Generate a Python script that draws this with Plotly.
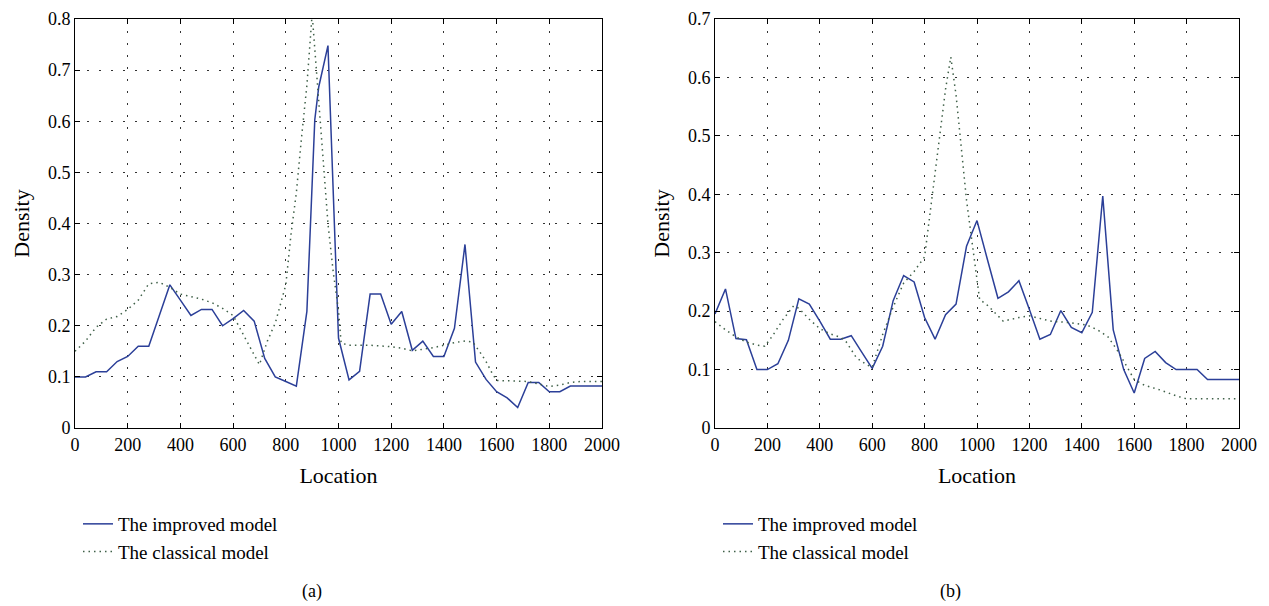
import plotly.graph_objects as go

# --- data ---
loc_a = [0, 40, 80, 120, 160, 200, 240, 280, 320, 360, 400, 440, 480, 520, 560, 600, 640,
         680, 720, 760, 800, 840, 880, 910, 925, 960, 1000, 1040, 1080, 1120, 1160, 1200,
         1240, 1280, 1320, 1360, 1400, 1440, 1480, 1520, 1560, 1600, 1640, 1680, 1720,
         1760, 1800, 1840, 1880, 1920, 1960, 2000]
improved_a = [0.10, 0.10, 0.11, 0.11, 0.13, 0.14, 0.16, 0.16, 0.22, 0.28, 0.25, 0.22, 0.232,
              0.232, 0.20, 0.214, 0.23, 0.209, 0.136, 0.10, 0.091, 0.082, 0.228, 0.603,
              0.667, 0.748, 0.176, 0.094, 0.111, 0.262, 0.262, 0.203, 0.228, 0.152, 0.170,
              0.140, 0.140, 0.195, 0.359, 0.129, 0.095, 0.071, 0.059, 0.040, 0.089, 0.089,
              0.071, 0.071, 0.082, 0.082, 0.082, 0.082]

cls_loc_a = [0, 40, 80, 120, 160, 200, 240, 280, 320, 360, 400, 440, 480, 520, 560, 600, 640,
             680, 700, 730, 760, 800, 820, 840, 860, 880, 900, 920, 940, 960, 980, 1000,
             1010, 1040, 1120, 1200, 1240, 1280, 1320, 1360, 1400, 1440, 1480, 1510, 1540,
             1560, 1580, 1600, 1720, 1760, 1800, 1840, 1880, 1920, 2000]
classical_a = [0.15, 0.17, 0.197, 0.213, 0.218, 0.232, 0.25, 0.282, 0.285, 0.275, 0.262,
               0.257, 0.252, 0.245, 0.234, 0.22, 0.18, 0.143, 0.124, 0.17, 0.205, 0.28,
               0.38, 0.46, 0.57, 0.67, 0.81, 0.67, 0.53, 0.40, 0.305, 0.23, 0.166, 0.162,
               0.162, 0.159, 0.156, 0.151, 0.154, 0.157, 0.162, 0.167, 0.170, 0.168, 0.146,
               0.13, 0.11, 0.093, 0.091, 0.086, 0.081, 0.084, 0.089, 0.091, 0.091]

loc_b = list(range(0, 2001, 40))
improved_b = [0.195, 0.238, 0.153, 0.151, 0.100, 0.100, 0.110, 0.150, 0.221, 0.212, 0.183,
              0.152, 0.152, 0.158, 0.130, 0.102, 0.140, 0.218, 0.261, 0.250, 0.189, 0.152,
              0.194, 0.212, 0.311, 0.355, 0.288, 0.222, 0.233, 0.252, 0.203, 0.152, 0.160,
              0.201, 0.172, 0.163, 0.198, 0.397, 0.168, 0.100, 0.060, 0.119, 0.131, 0.112,
              0.100, 0.100, 0.100, 0.083, 0.083, 0.083, 0.083]

cls_loc_b = [0, 40, 80, 120, 160, 190, 220, 260, 300, 320, 360, 400, 440, 480, 500, 540,
             580, 600, 640, 680, 720, 760, 800, 840, 880, 900, 920, 960, 1000, 1010, 1040,
             1080, 1100, 1160, 1200, 1280, 1360, 1420, 1460, 1500, 1540, 1600, 1640, 1700,
             1760, 1800, 2000]
classical_b = [0.182, 0.168, 0.156, 0.147, 0.142, 0.140, 0.158, 0.186, 0.209, 0.205, 0.186,
               0.170, 0.161, 0.155, 0.148, 0.120, 0.108, 0.104, 0.160, 0.207, 0.248, 0.268,
               0.293, 0.44, 0.58, 0.635, 0.57, 0.39, 0.253, 0.22, 0.21, 0.192, 0.183, 0.189,
               0.192, 0.183, 0.180, 0.176, 0.168, 0.156, 0.130, 0.083, 0.073, 0.065, 0.055,
               0.050, 0.050]

x_ticks = list(range(0, 2001, 200))
BLUE = "#2b3f98"
GREEN = "#3f6048"
FONT = "Liberation Serif"

# the page body has an 8px margin, so the figure starts 8px in from the window corner
OFF = 8
W, H = 1269 - OFF, 606 - OFF


def px_x(p):
    return (p - OFF) / W


def px_y(p):
    return 1 - (p - OFF) / H


fig = go.Figure()

fig.add_trace(go.Scatter(x=loc_a, y=improved_a, mode="lines", name="The improved model",
                         line=dict(color=BLUE, width=1.5), xaxis="x", yaxis="y",
                         legend="legend", legendgroup="a1"))
fig.add_trace(go.Scatter(x=cls_loc_a, y=classical_a, mode="lines", name="The classical model",
                         line=dict(color=GREEN, width=1.5, dash="1.5px,4px"), xaxis="x", yaxis="y",
                         legend="legend", legendgroup="a2"))
fig.add_trace(go.Scatter(x=loc_b, y=improved_b, mode="lines", name="The improved model",
                         line=dict(color=BLUE, width=1.5), xaxis="x2", yaxis="y2",
                         legend="legend2", legendgroup="b1"))
fig.add_trace(go.Scatter(x=cls_loc_b, y=classical_b, mode="lines", name="The classical model",
                         line=dict(color=GREEN, width=1.5, dash="1.5px,4px"), xaxis="x2", yaxis="y2",
                         legend="legend2", legendgroup="b2"))

axis_common = dict(
    showline=True, linecolor="black", linewidth=1, mirror="ticks",
    ticks="inside", ticklen=5, tickcolor="black", tickwidth=1,
    showgrid=True, gridcolor="#333", gridwidth=1, griddash="1.5px,10.5px",
    zeroline=False, automargin=False,
    tickfont=dict(family=FONT, size=18, color="black"),
)

y_dom = [px_y(428), px_y(19)]

fig.update_layout(
    width=W, height=H,
    margin=dict(l=0, r=0, t=0, b=0),
    paper_bgcolor="white", plot_bgcolor="white",
    font=dict(family=FONT, size=18, color="black"),
    xaxis=dict(axis_common, domain=[px_x(75), px_x(602)], range=[0, 2000], tickvals=x_ticks,
               anchor="y", title=dict(text="Location", standoff=14)),
    yaxis=dict(axis_common, domain=y_dom, range=[0, 0.8], dtick=0.1,
               anchor="x", title=dict(text="Density", standoff=12)),
    xaxis2=dict(axis_common, domain=[px_x(715), px_x(1239)], range=[0, 2000], tickvals=x_ticks,
                anchor="y2", title=dict(text="Location", standoff=14)),
    yaxis2=dict(axis_common, domain=y_dom, range=[0, 0.7], dtick=0.1,
                anchor="x2", title=dict(text="Density", standoff=12)),
    legend=dict(x=px_x(78), y=px_y(505), xanchor="left", yanchor="top",
                font=dict(family=FONT, size=19), tracegroupgap=0, bgcolor="rgba(0,0,0,0)"),
    legend2=dict(x=px_x(718), y=px_y(505), xanchor="left", yanchor="top",
                 font=dict(family=FONT, size=19), tracegroupgap=0, bgcolor="rgba(0,0,0,0)"),
    annotations=[
        dict(text="(a)", x=px_x(312), y=px_y(591), xref="paper", yref="paper",
             xanchor="center", yanchor="middle", showarrow=False,
             font=dict(family=FONT, size=18)),
        dict(text="(b)", x=px_x(950), y=px_y(591), xref="paper", yref="paper",
             xanchor="center", yanchor="middle", showarrow=False,
             font=dict(family=FONT, size=18)),
    ],
)

fig.write_html("out.html")
